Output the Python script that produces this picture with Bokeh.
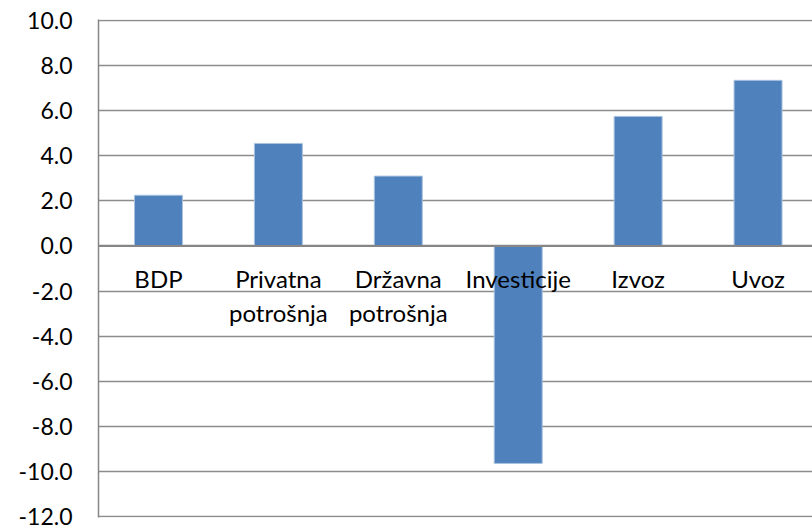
from bokeh.plotting import figure
from bokeh.models import Range1d, FixedTicker, NumeralTickFormatter, Span, ColumnDataSource
from bokeh.core.properties import value
from bokeh.embed import file_html
from bokeh.resources import INLINE

categories = ["BDP", "Privatna\npotrošnja", "Državna\npotrošnja", "Investicije", "Izvoz", "Uvoz"]
values = [2.25, 4.55, 3.1, -9.65, 5.75, 7.35]
y_ticks = [-12, -10, -8, -6, -4, -2, 0, 2, 4, 6, 8, 10]

xs = list(range(len(categories)))
line1 = [c.split("\n")[0] for c in categories]
line2 = [c.split("\n")[1] if "\n" in c else "" for c in categories]

src = ColumnDataSource(dict(x=xs, top=values, zero=[0] * len(xs), l1=line1, l2=line2))

p = figure(width=812, height=531, output_backend="svg", toolbar_location=None,
           x_range=Range1d(-0.5, 5.454), y_range=Range1d(-12.05, 10.05),
           x_axis_location=None, min_border_left=98, min_border_right=0,
           min_border_top=19, min_border_bottom=14)
p.outline_line_color = None
p.background_fill_color = "white"
p.border_fill_color = "white"

p.yaxis.ticker = FixedTicker(ticks=y_ticks)
p.yaxis.formatter = NumeralTickFormatter(format="0.0")
p.yaxis.major_tick_line_color = None
p.yaxis.minor_tick_line_color = None
p.yaxis.axis_line_color = "#868686"
p.yaxis.axis_line_width = 1.5
p.yaxis.major_label_standoff = 20
p.yaxis.major_label_text_font = "Lato"
p.yaxis.major_label_text_font_size = "23px"
p.yaxis.major_label_text_color = "#000000"

p.xgrid.visible = False
p.ygrid.ticker = FixedTicker(ticks=y_ticks)
p.ygrid.grid_line_color = "#8c8c8c"
p.ygrid.grid_line_width = 1.5

p.vbar(x="x", top="top", bottom="zero", width=0.4, source=src,
       fill_color="#4f81bd", line_color="#a9c2df", line_width=1)

p.add_layout(Span(location=0, dimension="width", line_color="#868686", line_width=2))

p.text(x="x", y="zero", text="l1", source=src, text_align="center",
       text_baseline="alphabetic", y_offset=33, text_font=value("Lato"),
       text_font_size="24px", text_color="#000000")
p.text(x="x", y="zero", text="l2", source=src, text_align="center",
       text_baseline="alphabetic", y_offset=67, text_font=value("Lato"),
       text_font_size="24px", text_color="#000000")

open("out.html", "w").write(file_html(p, INLINE))
